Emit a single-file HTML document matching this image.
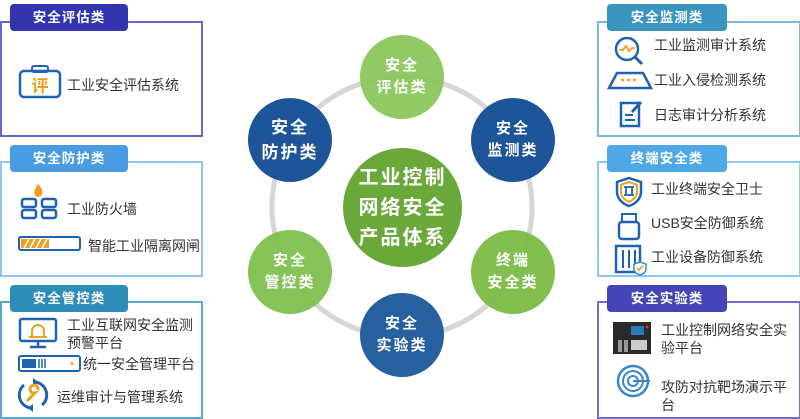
<!DOCTYPE html>
<html><head><meta charset="utf-8"><style>
*{margin:0;padding:0;box-sizing:border-box}
body{width:800px;height:417px;background:#fff;position:relative;overflow:hidden;font-family:"Liberation Sans","Noto Sans CJK SC",sans-serif;color:#333}
.box{position:absolute;border:2px solid}
.tab{position:absolute;height:27px;border-radius:4px;color:#fff;font-weight:bold;font-size:13.5px;text-align:center;line-height:27px;letter-spacing:1px}
.t{position:absolute;font-size:14px;line-height:18px;white-space:nowrap;color:#333}
.c{position:absolute;border-radius:50%;color:#fff;font-weight:bold;text-align:center;display:flex;align-items:center;justify-content:center;font-size:15px;line-height:22px;letter-spacing:2px}
svg{position:absolute}
</style></head><body>
<!-- ring -->
<svg style="left:0;top:0" width="800" height="417"><circle cx="402" cy="207" r="130" fill="none" stroke="#d6d6d6" stroke-width="5"/></svg>
<div class="c" style="left:343;top:148px;left:343px;width:119px;height:119px;background:#6aa83a;font-size:20px;line-height:30px">工业控制<br>网络安全<br>产品体系</div>
<div class="c" style="left:360px;top:35px;width:84px;height:84px;background:#8cc85c;opacity:.95">安全<br>评估类</div>
<div class="c" style="left:248px;top:98px;width:84px;height:84px;background:#1d5598;font-size:17px;line-height:25px">安全<br>防护类</div>
<div class="c" style="left:471px;top:98px;width:84px;height:84px;background:#1d5598">安全<br>监测类</div>
<div class="c" style="left:248px;top:230px;width:84px;height:84px;background:#80c050;opacity:.95">安全<br>管控类</div>
<div class="c" style="left:471px;top:230px;width:84px;height:84px;background:#7cbc46;opacity:.95">终端<br>安全类</div>
<div class="c" style="left:360px;top:293px;width:84px;height:84px;background:#26609f">安全<br>实验类</div>

<!-- left boxes -->
<div class="box" style="left:0;top:21px;width:203px;height:116px;border-color:#6868cc"></div>
<div class="tab" style="left:10px;top:4px;width:118px;background:#3434b0">安全评估类</div>
<svg style="left:18px;top:65px" width="44" height="34"><rect x="2" y="6" width="40" height="26" rx="4" fill="none" stroke="#1e62b0" stroke-width="2.5"/><rect x="14" y="1" width="16" height="6" rx="2" fill="none" stroke="#1e62b0" stroke-width="2"/><text x="22" y="27" font-size="17" fill="#f0a020" text-anchor="middle" font-family="Noto Sans CJK SC" font-weight="bold">评</text></svg>
<div class="t" style="left:67px;top:76px">工业安全评估系统</div>

<div class="box" style="left:0;top:161px;width:203px;height:116px;border-color:#90c4ee"></div>
<div class="tab" style="left:10px;top:145px;width:118px;background:#4a9ce2">安全防护类</div>
<svg style="left:20px;top:182px" width="40" height="38"><path d="M18 2 C24 8 24 14 18 15 C13 14 13 9 18 2Z" fill="#f0a020"/><rect x="2" y="17" width="14" height="8" rx="2" fill="none" stroke="#1e62b0" stroke-width="2.5"/><rect x="22" y="17" width="14" height="8" rx="2" fill="none" stroke="#1e62b0" stroke-width="2.5"/><rect x="2" y="28" width="14" height="8" rx="2" fill="none" stroke="#1e62b0" stroke-width="2.5"/><rect x="22" y="28" width="14" height="8" rx="2" fill="none" stroke="#1e62b0" stroke-width="2.5"/></svg>
<div class="t" style="left:67px;top:200px">工业防火墙</div>
<svg style="left:18px;top:236px" width="64" height="16"><rect x="1" y="1" width="61" height="13" rx="2" fill="none" stroke="#1e62b0" stroke-width="2"/><rect x="3" y="3" width="28" height="9" fill="#f0a020"/><path d="M6 12l5-9M12 12l5-9M18 12l5-9M24 12l5-9" stroke="#fff" stroke-width="1.5"/></svg>
<div class="t" style="left:88px;top:237px">智能工业隔离网闸</div>

<div class="box" style="left:0;top:301px;width:203px;height:118px;border-color:#5ca8cc"></div>
<div class="tab" style="left:10px;top:285px;width:118px;background:#2e8cb8">安全管控类</div>
<svg style="left:18px;top:317px" width="40" height="32"><rect x="2" y="2" width="36" height="22" rx="2" fill="none" stroke="#1e62b0" stroke-width="2.5"/><path d="M20 24v5M12 30h16" stroke="#1e62b0" stroke-width="2.5"/><path d="M14 20v-6a6 6 0 0 1 12 0v6z" fill="none" stroke="#f0a020" stroke-width="2"/><path d="M11 20h18" stroke="#f0a020" stroke-width="2"/></svg>
<div class="t" style="left:67px;top:316px">工业互联网安全监测</div>
<div class="t" style="left:67px;top:334px">预警平台</div>
<svg style="left:18px;top:355px" width="64" height="18"><rect x="1" y="1" width="61" height="15" rx="2" fill="none" stroke="#1e62b0" stroke-width="2"/><rect x="4" y="4" width="14" height="9" fill="#1e62b0"/><path d="M21 4v9M24 4v9M27 4v9" stroke="#1e62b0" stroke-width="1.5"/><circle cx="54" cy="8.5" r="1.5" fill="#f0a020"/></svg>
<div class="t" style="left:83px;top:355px">统一安全管理平台</div>
<svg style="left:16px;top:377px" width="34" height="36"><path d="M8 8 A13 13 0 0 0 17 31" fill="none" stroke="#1e62b0" stroke-width="3"/><path d="M26 28 A13 13 0 0 0 17 5" fill="none" stroke="#1e62b0" stroke-width="3"/><path d="M17 1l5 4-5 4z" fill="#1e62b0"/><path d="M17 27l-5 4 5 4z" fill="#1e62b0"/><path d="M11 24l8-8a4 4 0 1 1 3 -3" stroke="#f0a020" stroke-width="3" fill="none"/></svg>
<div class="t" style="left:57px;top:388px">运维审计与管理系统</div>

<!-- right boxes -->
<div class="box" style="left:597px;top:21px;width:204px;height:116px;border-color:#7ab8dc"></div>
<div class="tab" style="left:607px;top:4px;width:120px;background:#3a94c0">安全监测类</div>
<svg style="left:614px;top:36px" width="32" height="30"><circle cx="13" cy="13" r="11" fill="none" stroke="#1e62b0" stroke-width="2.5"/><path d="M21 21l7 7" stroke="#1e62b0" stroke-width="3"/><path d="M5 14l4 0 3-4 3 5 3-3 3 0" stroke="#f0a020" stroke-width="1.8" fill="none"/></svg>
<div class="t" style="left:654px;top:36px">工业监测审计系统</div>
<svg style="left:607px;top:70px" width="46" height="20"><path d="M2 18l8-15h26l8 15z" fill="none" stroke="#1e62b0" stroke-width="2.5"/><path d="M14 10h18" stroke="#f0a020" stroke-width="2.5" stroke-dasharray="3 3"/></svg>
<div class="t" style="left:654px;top:71px">工业入侵检测系统</div>
<svg style="left:618px;top:99px" width="30" height="30"><path d="M3 4h18v23h-18z" fill="none" stroke="#1e62b0" stroke-width="2.5"/><path d="M7 16h8M7 21h10" stroke="#1e62b0" stroke-width="2"/><path d="M14 13l9-10" stroke="#1e62b0" stroke-width="3"/></svg>
<div class="t" style="left:654px;top:106px">日志审计分析系统</div>

<div class="box" style="left:597px;top:161px;width:204px;height:116px;border-color:#8cc8ee"></div>
<div class="tab" style="left:607px;top:145px;width:120px;background:#4fa8e6">终端安全类</div>
<svg style="left:614px;top:176px" width="32" height="32"><path d="M15 2l12 4v10c0 7-6 12-12 14c-6-2-12-7-12-14v-10z" fill="none" stroke="#1e62b0" stroke-width="2.5"/><path d="M15 6l8 3v7c0 5-4 8-8 10c-4-2-8-5-8-10v-7z" fill="none" stroke="#f0a020" stroke-width="2"/><path d="M10 11h10M12 11v8M18 11v8M10 19h10" stroke="#1e62b0" stroke-width="1.8"/></svg>
<div class="t" style="left:651px;top:180px">工业终端安全卫士</div>
<svg style="left:617px;top:212px" width="26" height="30"><rect x="5" y="2" width="14" height="8" fill="none" stroke="#1e62b0" stroke-width="2"/><rect x="2" y="10" width="20" height="17" rx="3" fill="none" stroke="#1e62b0" stroke-width="2.5"/></svg>
<div class="t" style="left:651px;top:214px">USB安全防御系统</div>
<svg style="left:614px;top:244px" width="34" height="32"><rect x="2" y="2" width="24" height="26" fill="none" stroke="#1e62b0" stroke-width="2.5"/><path d="M9 6v18M15 6v18M21 6v18" stroke="#1e62b0" stroke-width="2"/><path d="M26 18l6 2v5c0 3-3 5-6 6c-3-1-6-3-6-6v-5z" fill="#fff" stroke="#2e8cd0" stroke-width="1.5"/><path d="M23 24l2 2 4-4" stroke="#f0a020" stroke-width="1.8" fill="none"/></svg>
<div class="t" style="left:651px;top:248px">工业设备防御系统</div>

<div class="box" style="left:597px;top:301px;width:204px;height:118px;border-color:#7070cc"></div>
<div class="tab" style="left:607px;top:285px;width:120px;background:#4545b8">安全实验类</div>
<svg style="left:613px;top:322px" width="38" height="32"><rect x="0" y="0" width="38" height="32" fill="#2a2a2a"/><rect x="18" y="4" width="13" height="9" fill="#2a7ab8"/><rect x="5" y="18" width="4" height="12" fill="#999"/><rect x="11" y="18" width="4" height="12" fill="#999"/><rect x="18" y="18" width="16" height="10" fill="#ccc"/><circle cx="34" cy="5" r="1.5" fill="#d33"/></svg>
<div class="t" style="left:661px;top:321px">工业控制网络安全实</div>
<div class="t" style="left:661px;top:339px">验平台</div>
<svg style="left:616px;top:364px" width="36" height="36"><circle cx="17" cy="17" r="15" fill="none" stroke="#3a86cc" stroke-width="2.5"/><circle cx="17" cy="17" r="10" fill="none" stroke="#3a86cc" stroke-width="2"/><circle cx="17" cy="17" r="5" fill="none" stroke="#3a86cc" stroke-width="2"/><path d="M17 17h17" stroke="#3a86cc" stroke-width="2"/></svg>
<div class="t" style="left:661px;top:378px">攻防对抗靶场演示平</div>
<div class="t" style="left:661px;top:396px">台</div>
</body></html>
